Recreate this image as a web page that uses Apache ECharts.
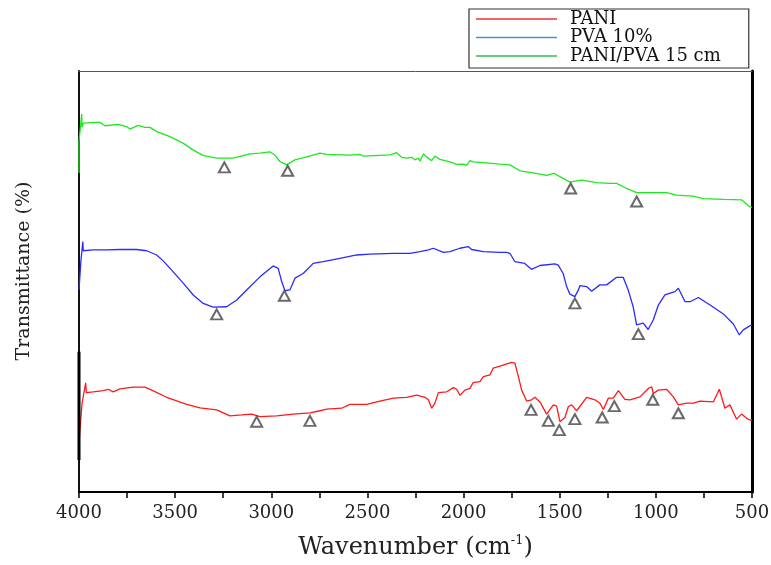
<!DOCTYPE html>
<html>
<head>
<meta charset="UTF-8">
<title>FTIR</title>
<script src="https://cdn.jsdelivr.net/npm/echarts@6/dist/echarts.min.js"></script>
<style>
	html, body { margin: 0; padding: 0; background: #fff; }
	#chart { width: 771px; height: 565px; }
</style>
</head>
<body>
	<div id="chart"></div>
	<script>
		// [wavenumber (cm-1), transmittance (a.u., stacked offsets)]
		var paniData = [
			[4000, 11.9], [3984, 21.1], [3965, 25.9], [3962, 23.6], [3958, 23.8], [3926, 23.8], [3874, 24.1],
			[3848, 24.4], [3822, 23.8], [3787, 24.5], [3718, 24.9], [3657, 24.9], [3622, 24.2], [3544, 22.5],
			[3440, 20.8], [3371, 20.0], [3284, 19.5], [3215, 18.1], [3154, 18.3], [3102, 18.5], [3059, 17.9],
			[2972, 18.1], [2886, 18.5], [2799, 18.8], [2747, 19.3], [2712, 19.7], [2634, 19.9], [2591, 20.8],
			[2504, 20.8], [2435, 21.6], [2365, 22.3], [2296, 22.5], [2244, 23.0], [2201, 22.5], [2183, 21.9],
			[2166, 19.9], [2149, 21.1], [2131, 23.6], [2088, 23.8], [2053, 24.8], [2036, 24.4], [2019, 23.0],
			[1993, 24.2], [1967, 24.6], [1950, 26.0], [1915, 26.2], [1897, 27.4], [1863, 27.8], [1846, 29.4],
			[1811, 29.9], [1802, 30.2], [1750, 30.8], [1733, 30.6], [1715, 27.4], [1698, 24.2], [1672, 21.6],
			[1646, 21.9], [1629, 22.5], [1603, 21.4], [1568, 18.5], [1533, 20.7], [1516, 20.4], [1499, 16.7],
			[1473, 17.7], [1455, 20.3], [1438, 20.7], [1412, 19.3], [1360, 22.5], [1317, 21.9], [1291, 21.1],
			[1273, 19.6], [1247, 22.3], [1221, 22.3], [1195, 24.1], [1161, 22.0], [1135, 21.9], [1083, 22.6],
			[1039, 24.6], [1022, 25.0], [1013, 23.4], [987, 24.2], [944, 24.4], [909, 22.6], [883, 20.7],
			[840, 21.1], [805, 21.1], [771, 21.6], [701, 21.4], [670, 24.4], [641, 19.9], [615, 20.7],
			[580, 17.3], [554, 18.5], [528, 17.5], [511, 17.1], [500, 17.1]
		];
		var pvaData = [
			[4000, 48.0], [3990, 55.0], [3980, 59.5], [3978, 57.3], [3969, 57.3], [3926, 57.5], [3856, 57.5],
			[3787, 57.6], [3700, 57.6], [3648, 57.3], [3596, 56.3], [3562, 54.9], [3510, 52.3], [3458, 49.6],
			[3406, 46.8], [3354, 44.8], [3302, 43.9], [3232, 44.0], [3180, 45.6], [3128, 48.0], [3059, 51.1],
			[2990, 53.7], [2964, 53.1], [2946, 50.0], [2929, 47.8], [2903, 48.0], [2877, 50.8], [2834, 51.9],
			[2782, 54.3], [2747, 54.6], [2730, 54.7], [2643, 55.5], [2556, 56.3], [2487, 56.5], [2365, 56.7],
			[2279, 56.7], [2227, 57.1], [2183, 57.5], [2157, 57.9], [2105, 56.9], [2071, 57.1], [2019, 57.9],
			[1976, 58.3], [1958, 57.6], [1897, 57.1], [1811, 56.9], [1776, 56.9], [1759, 56.7], [1733, 54.7],
			[1682, 54.3], [1647, 52.9], [1603, 53.8], [1525, 54.2], [1508, 53.9], [1482, 51.9], [1464, 48.8],
			[1447, 47.0], [1421, 46.4], [1403, 48.0], [1395, 49.0], [1360, 48.8], [1334, 47.7], [1291, 49.2],
			[1256, 49.2], [1204, 51.0], [1170, 51.0], [1144, 48.0], [1118, 44.0], [1100, 39.7], [1066, 40.1],
			[1040, 38.6], [1013, 40.9], [987, 44.4], [953, 46.8], [901, 47.6], [883, 48.4], [848, 45.2],
			[822, 45.2], [779, 46.2], [718, 44.4], [649, 42.3], [597, 39.9], [566, 37.3], [545, 38.5],
			[514, 39.4], [500, 39.7]
		];
		var blendData = [
			[4000, 75.8], [4000, 83.2], [3986, 89.8], [3984, 86.6], [3978, 87.6], [3917, 87.8], [3891, 87.8],
			[3865, 87.0], [3796, 87.3], [3752, 86.8], [3735, 86.2], [3692, 87.1], [3657, 86.6], [3631, 86.6],
			[3596, 85.6], [3527, 84.4], [3457, 82.8], [3405, 81.2], [3353, 79.9], [3284, 79.3], [3198, 79.3],
			[3111, 80.3], [3059, 80.5], [3007, 80.8], [2981, 80.0], [2955, 78.5], [2920, 77.7], [2877, 78.9],
			[2816, 79.6], [2747, 80.5], [2712, 80.2], [2591, 80.0], [2539, 80.2], [2522, 79.8], [2383, 80.1],
			[2348, 80.6], [2322, 79.5], [2296, 79.3], [2270, 79.5], [2253, 78.9], [2235, 79.3], [2227, 78.6],
			[2209, 80.3], [2192, 79.6], [2166, 78.7], [2149, 79.8], [2123, 79.0], [2071, 78.4], [2036, 77.8],
			[2001, 77.9], [1984, 77.6], [1967, 78.7], [1949, 78.4], [1880, 78.2], [1811, 77.9], [1759, 77.7],
			[1707, 76.3], [1637, 75.8], [1568, 75.2], [1530, 75.7], [1499, 74.9], [1447, 73.6], [1412, 73.9],
			[1386, 74.1], [1308, 73.5], [1239, 73.3], [1204, 73.3], [1152, 72.1], [1100, 71.1], [1013, 71.1],
			[944, 71.1], [892, 70.5], [806, 70.3], [753, 69.7], [649, 69.5], [554, 69.4], [514, 67.8], [500, 67.6]
		];
		// dark trace segment at the 4000 cm-1 edge
		var edgeData = [[4000, 33.3], [4000, 7.6]];
		// marked bands (open triangles)
		var peakData = [
			[3244, 77.1], [2915, 76.3], [1443, 72.1], [1100, 69.0],
			[3284, 42.2], [2932, 46.6], [1421, 44.8], [1091, 37.5],
			[3076, 16.7], [2799, 16.9], [1649, 19.5], [1559, 16.9], [1502, 14.7], [1421, 17.3],
			[1279, 17.7], [1216, 20.4], [1016, 21.9], [883, 18.7]
		];
		var seriesNames = ['PANI', 'PVA 10%', 'PANI/PVA 15 cm'];
		var lineColors = ['#ff1a1a', '#2a2aff', '#1ee81e'];
		var legendColors = ['#ee3333', '#4a90d9', '#33bb55'];

		var serif = 'DejaVu Serif';
		var chart = echarts.init(document.getElementById('chart'));

		function lineSeries(name, data, color) {
			return {
				name: name,
				type: 'line',
				data: data,
				symbol: 'none',
				lineStyle: { color: color, width: 1.3 },
				itemStyle: { color: color },
				z: 3
			};
		}

		var option = {
			animation: false,
			backgroundColor: '#fff',
			grid: { left: 79, right: 19, top: 71, bottom: 73, containLabel: false, outerBoundsMode: 'none' },
			legend: {
				orient: 'vertical',
				left: 469,
				top: 9,
				padding: [1, 28, 3, 7],
				borderColor: '#333',
				borderWidth: 1.2,
				icon: 'rect',
				itemWidth: 81,
				itemHeight: 1.6,
				itemGap: 0.5,
				textStyle: { fontFamily: serif, fontSize: 18, color: '#111', padding: [0, 0, 0, 8] },
				data: seriesNames.map(function (n, i) {
					return { name: n, itemStyle: { color: legendColors[i] } };
				})
			},
			xAxis: [{
				type: 'value',
				inverse: true,
				min: 500,
				max: 4000,
				interval: 250,
				position: 'bottom',
				name: 'Wavenumber (cm{sup|-1})',
				nameLocation: 'middle',
				nameGap: 42,
				nameTextStyle: {
					fontFamily: serif, fontSize: 24, color: '#222', lineHeight: 28,
					rich: { sup: { fontFamily: serif, fontSize: 13, color: '#222', verticalAlign: 'top', lineHeight: 28 } }
				},
				axisLine: { onZero: false, lineStyle: { color: '#000', width: 2 } },
				axisTick: { show: true, inside: false, length: 6, lineStyle: { color: '#000', width: 1.5 } },
				axisLabel: {
					fontFamily: serif, fontSize: 18, color: '#222', margin: 12,
					formatter: function (v) { return v % 500 === 0 ? String(v) : ''; }
				},
				splitLine: { show: false }
			}, {
				type: 'value',
				inverse: true,
				min: 500,
				max: 4000,
				position: 'top',
				axisLine: { onZero: false, lineStyle: { color: '#555', width: 1 } },
				axisTick: { show: false },
				axisLabel: { show: false },
				splitLine: { show: false }
			}],
			yAxis: [{
				type: 'value',
				min: 0,
				max: 100,
				position: 'left',
				axisLine: { show: true, onZero: false, lineStyle: { color: '#111', width: 2 } },
				axisTick: { show: false },
				axisLabel: { show: false },
				splitLine: { show: false }
			}, {
				type: 'value',
				min: 0,
				max: 100,
				position: 'right',
				axisLine: { show: true, onZero: false, lineStyle: { color: '#000', width: 3 } },
				axisTick: { show: false },
				axisLabel: { show: false },
				splitLine: { show: false }
			}],
			graphic: [{
				type: 'text',
				x: 24,
				y: 271,
				rotation: Math.PI / 2,
				style: {
					text: 'Transmittance (%)',
					fontFamily: serif,
					fontSize: 19,
					fill: '#222',
					align: 'center',
					verticalAlign: 'middle'
				}
			}],
			series: [
				lineSeries(seriesNames[0], paniData, lineColors[0]),
				lineSeries(seriesNames[1], pvaData, lineColors[1]),
				lineSeries(seriesNames[2], blendData, lineColors[2]),
				{
					type: 'line',
					data: edgeData,
					symbol: 'none',
					lineStyle: { color: '#000', width: 3 },
					z: 4
				},
				{
					type: 'scatter',
					data: peakData,
					symbol: 'emptyTriangle',
					symbolSize: [11, 10],
					itemStyle: { color: '#444', borderWidth: 1.5 },
					z: 5
				}
			]
		};
		chart.setOption(option);
	</script>
</body>
</html>
